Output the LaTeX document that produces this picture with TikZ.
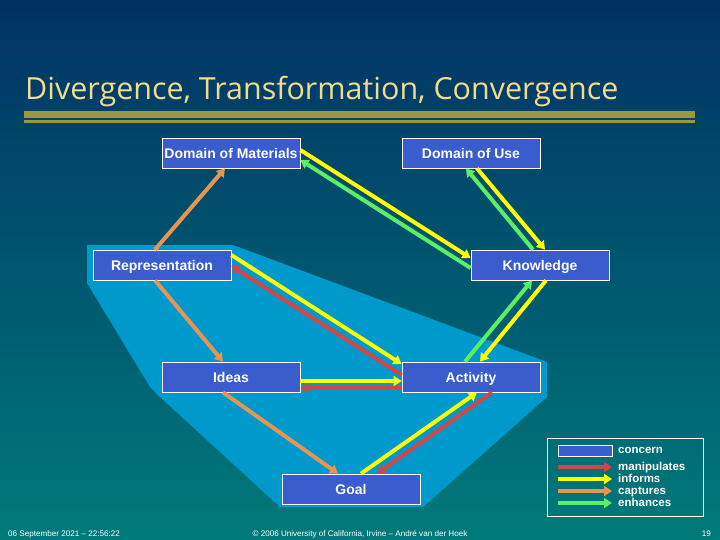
\documentclass[tikz,border=0pt]{standalone}
\usepackage{fontspec}
\setmainfont{Liberation Sans}
\newfontfamily\titlefont{Open Sans}
\usetikzlibrary{arrows.meta,calc}
\definecolor{bgtop}{RGB}{0,50,100}
\definecolor{bgbot}{RGB}{0,122,122}
\definecolor{poly}{RGB}{0,153,204}
\definecolor{boxblue}{RGB}{58,92,204}
\definecolor{titlecol}{RGB}{242,220,140}
\definecolor{olive}{RGB}{153,153,68}
\definecolor{cred}{RGB}{210,70,70}
\definecolor{cyellow}{RGB}{255,255,0}
\definecolor{corange}{RGB}{230,150,80}
\definecolor{cgreen}{RGB}{90,240,100}
\tikzset{
  concern/.style={draw=white, line width=0.8pt, fill=boxblue, minimum width=138pt, minimum height=30pt, inner sep=0pt, text height=13pt, text depth=2pt, text=white, font=\bfseries\fontsize{14}{16}\selectfont},
  rel/.style={line width=4pt, -{Triangle[length=8pt,width=10pt]}},
  manip/.style={rel, draw=cred},
  inform/.style={rel, draw=cyellow},
  capt/.style={rel, draw=corange},
  enh/.style={rel, draw=cgreen},
  legtext/.style={anchor=base west, text=white, inner sep=0pt, text height=8pt, text depth=2pt, font=\bfseries\fontsize{11.5}{12}\selectfont},
  foot/.style={text=white, inner sep=0pt, font=\fontsize{8.1}{9}\selectfont}
}
\begin{document}
\begin{tikzpicture}[x=1pt,y=-1pt]
\useasboundingbox (0,0) rectangle (720,540);
\shade[top color=bgtop, bottom color=bgbot] (0,0) rectangle (720,540);
% title
\node[anchor=base west, inner sep=0pt, text=titlecol] (title) at (25,100) {\resizebox{593pt}{!}{\titlefont Divergence, Transformation, Convergence}};
\fill[olive] (24,111) rectangle (695,118);
\fill[olive] (24,120) rectangle (695,123);
% light blue region
\fill[poly] (87,245) -- (233,245) -- (547,362) -- (547,397) -- (423,507) -- (280,507) -- (160,397) -- (150,387) -- (87,283) -- cycle;
% nodes
\node[concern] (dom) at (231,153) {Domain of Materials};
\node[concern] (dou) at (471,153) {Domain of Use};
\node[concern] (rep) at (162,265) {Representation};
\node[concern] (kno) at (540,265) {Knowledge};
\node[concern] (ide) at (231,377) {Ideas};
\node[concern] (act) at (471,377) {Activity};
\node[concern] (goal) at (351,489) {Goal};
% connectors
\draw[capt] ($(rep.north)+(-7,0)$) -- ($(dom.south)+(-6,0)$);
\draw[capt] ($(rep.south)+(-7,0)$) -- ($(ide.north)+(-8,0)$);
\draw[capt] ($(ide.south)+(-8,0)$) -- ($(goal.north)+(-13,0)$);
\draw[inform] ($(dom.east)+(0,-3)$) -- ($(kno.west)+(0,-7)$);
\draw[enh] ($(kno.west)+(0,3)$) -- ($(dom.east)+(0,7)$);
\draw[inform] ($(dou.south)+(6,0)$) -- ($(kno.north)+(5,0)$);
\draw[enh] ($(kno.north)+(-7,0)$) -- ($(dou.south)+(-5,0)$);
\draw[inform] ($(kno.south)+(6,0)$) -- ($(act.north)+(9,0)$);
\draw[enh] ($(act.north)+(-6,0)$) -- ($(kno.south)+(-8,0)$);
\draw[inform] ($(rep.east)+(0,-10)$) -- ($(act.west)+(0,-13)$);
\draw[manip] ($(act.west)+(0,-2)$) -- ($(rep.east)+(0,1)$);
\draw[inform] ($(ide.east)+(0,4)$) -- ($(act.west)+(0,4)$);
\draw[manip] ($(act.west)+(0,11)$) -- ($(ide.east)+(0,11)$);
\draw[inform] ($(goal.north)+(10,0)$) -- ($(act.south)+(6,0)$);
\draw[manip] ($(act.south)+(21,0)$) -- ($(goal.north)+(26,0)$);
% legend
\node[draw=white, line width=0.8pt, minimum width=156pt, minimum height=78pt, inner sep=0pt] (legend) at (625,477) {};
\node[draw=white, line width=0.8pt, fill=boxblue, minimum width=54pt, minimum height=11pt, inner sep=0pt] (lgbox) at (585,450.5) {};
\coordinate (l1a) at (558,467); \coordinate (l1b) at (612,467);
\coordinate (l2a) at (558,479); \coordinate (l2b) at (612,479);
\coordinate (l3a) at (558,491); \coordinate (l3b) at (612,491);
\coordinate (l4a) at (558,503); \coordinate (l4b) at (612,503);
\draw[manip] (l1a) -- (l1b);
\draw[inform] (l2a) -- (l2b);
\draw[capt] (l3a) -- (l3b);
\draw[enh] (l4a) -- (l4b);
\node[legtext] (t0) at (618,453) {concern};
\node[legtext] (t1) at (618,470) {manipulates};
\node[legtext] (t2) at (618,482) {informs};
\node[legtext] (t3) at (618,494) {captures};
\node[legtext] (t4) at (618,506) {enhances};
% footer
\node[foot, anchor=west] (f1) at (8,534) {06 September 2021 -- 22:56:22};
\node[foot] (f2) at (360,534) {© 2006 University of California, Irvine -- André van der Hoek};
\node[foot, anchor=east] (f3) at (711,534) {19};
\end{tikzpicture}
\end{document}
